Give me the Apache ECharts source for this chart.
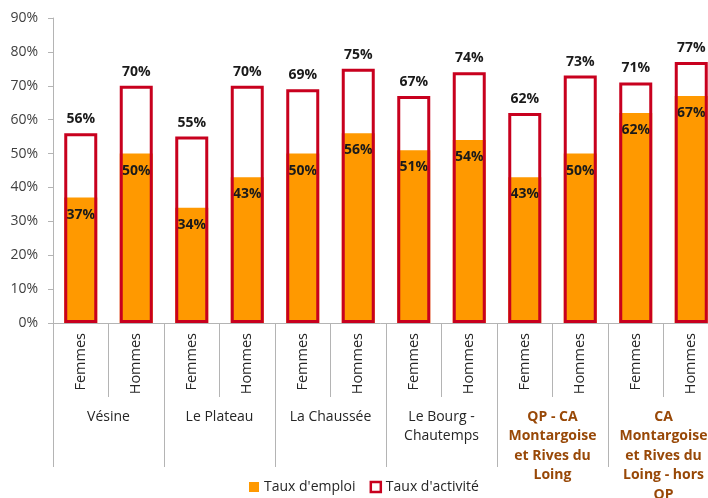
<!DOCTYPE html>
<html>
<head>
<meta charset="utf-8">
<script src="https://cdn.jsdelivr.net/npm/echarts@6/dist/echarts.min.js"></script>
<style>
html,body{margin:0;padding:0;background:#fff;}
#chart{width:708px;height:498px;}
</style>
</head>
<body>
<div id="chart"></div>
<script>
var sexes = ['Femmes','Hommes','Femmes','Hommes','Femmes','Hommes','Femmes','Hommes','Femmes','Hommes','Femmes','Hommes'];
var groups = ['Vésine','Le Plateau','La Chaussée','Le Bourg -\nChautemps','QP - CA\nMontargoise\net Rives du\nLoing','CA\nMontargoise\net Rives du\nLoing - hors\nQP'];
var highlightGroups = [4,5];
var tauxEmploi = [37,50,34,43,50,56,51,54,43,50,62,67];
var tauxActivite = [56,70,55,70,69,75,67,74,62,73,71,77];
var yTicks = [0,10,20,30,40,50,60,70,80,90];

var axisGrey = '#b4b4b4';
var font = 'Open Sans';

var groupData = groups.map(function(g,i){
  if (highlightGroups.indexOf(i) >= 0) {
    return {value:g, textStyle:{color:'#984807', fontWeight:'bold'}};
  }
  return {value:g};
});

var chart = echarts.init(document.getElementById('chart'));
chart.setOption({
  animation:false,
  textStyle:{fontFamily:font},
  grid:{left:53, top:18, width:666, height:305, containLabel:false, outerBoundsMode:'none'},
  legend:{
    bottom:-1, left:244,
    itemWidth:10, itemHeight:10, itemGap:14,
    textStyle:{fontFamily:font, fontSize:14, color:'#262626'},
    data:[
      {name:"Taux d'emploi", icon:'rect'},
      {name:"Taux d'activité", icon:'rect', itemStyle:{color:'#ffffff', borderColor:'#C8001E', borderWidth:2.5}}
    ]
  },
  xAxis:[
    {
      type:'category', data:sexes, position:'bottom',
      axisLine:{lineStyle:{color:axisGrey, width:1}},
      axisTick:{show:true, interval:0, length:74, lineStyle:{color:axisGrey}},
      axisLabel:{interval:0, rotate:90, margin:10, fontSize:14.5, color:'#262626', fontFamily:font}
    },
    {
      type:'category', data:groupData, position:'bottom',
      axisLine:{show:false},
      axisTick:{show:true, interval:0, length:144, lineStyle:{color:axisGrey}},
      axisLabel:{interval:0, margin:84, fontSize:14, color:'#262626', lineHeight:19.5, fontFamily:font}
    }
  ],
  yAxis:{
    type:'value', min:yTicks[0], max:yTicks[yTicks.length-1], interval:10,
    splitLine:{show:false},
    axisLine:{show:true, lineStyle:{color:axisGrey}},
    axisTick:{show:true, length:5, lineStyle:{color:axisGrey}},
    axisLabel:{formatter:'{value}%', fontSize:14, color:'#404040', margin:15, fontFamily:font}
  },
  series:[
    {
      name:"Taux d'emploi", type:'bar', xAxisIndex:0, data:tauxEmploi,
      barWidth:33, barGap:'-100%',
      itemStyle:{color:'#FF9900'},
      label:{show:true, position:'insideTop', distance:10, formatter:'{c}%', fontSize:14, fontWeight:'bold', color:'#1a1a1a', fontFamily:font},
      z:2
    },
    {
      name:"Taux d'activité", type:'bar', xAxisIndex:0, data:tauxActivite,
      barWidth:33, barGap:'-100%',
      itemStyle:{color:'rgba(0,0,0,0)', borderColor:'#C8001E', borderWidth:3},
      label:{show:true, position:'top', distance:7, formatter:'{c}%', fontSize:14, fontWeight:'bold', color:'#1a1a1a', fontFamily:font},
      z:3
    }
  ]
});
</script>
</body>
</html>
